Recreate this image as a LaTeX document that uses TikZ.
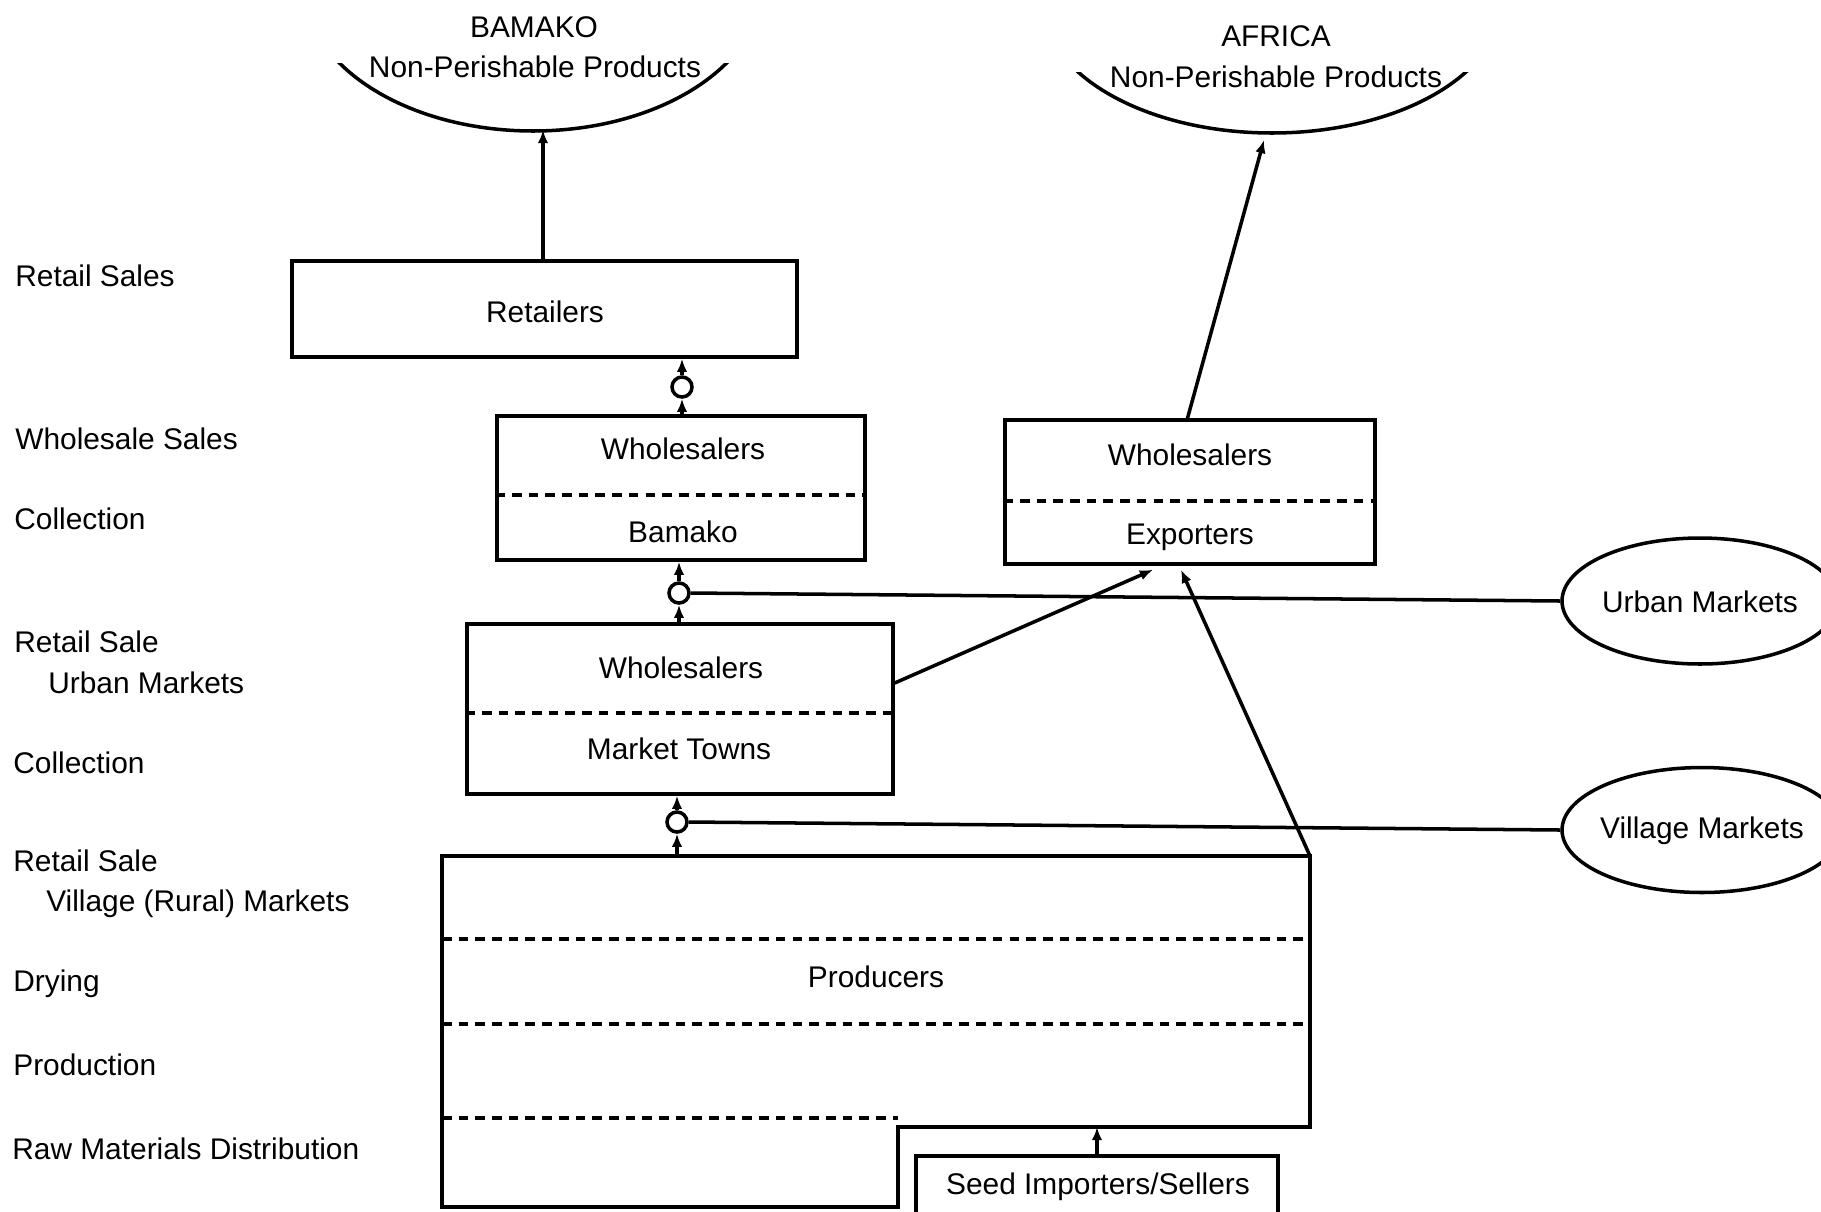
\documentclass[tikz,border=0pt]{standalone}
\usepackage{fontspec}
\setmainfont{Liberation Sans}
\usetikzlibrary{arrows.meta,calc,shapes.geometric}
\begin{document}
\begin{tikzpicture}[x=0.02cm,y=-0.02cm,
  every node/.style={font=\fontsize{17}{20}\selectfont},
  box/.style={draw,line width=2pt,inner sep=0,rectangle},
  dline/.style={line width=1.8pt,dash pattern=on 5.5pt off 4pt},
  conn/.style={line width=2pt},
  arr/.style={line width=2pt,-{Latex[length=7.5pt,width=6pt]}},
  lbl/.style={anchor=west,inner sep=0},
  txt/.style={inner sep=0},
  ring/.style={circle,draw,line width=2pt,minimum size=0.4cm,inner sep=0},
  mkt/.style={ellipse,draw,line width=2pt,inner sep=0}]
\useasboundingbox (0,0) rectangle (1821,1211);

% left labels
\node[lbl] (l1) at (15,276) {Retail Sales};
\node[lbl] (l2) at (15,439) {Wholesale Sales};
\node[lbl] (l3) at (14,519) {Collection};
\node[lbl] (l4) at (14,642) {Retail Sale};
\node[lbl] (l5) at (48,683) {Urban Markets};
\node[lbl] (l6) at (13,763) {Collection};
\node[lbl] (l7) at (13,861) {Retail Sale};
\node[lbl] (l8) at (46,904) {Village (Rural) Markets};
\node[lbl] (l9) at (13,984) {Drying};
\node[lbl] (l10) at (13,1065) {Production};
\node[lbl] (l11) at (12,1149) {Raw Materials Distribution};

% top destinations
\node[txt] (bam1) at (534,27) {BAMAKO};
\node[txt] (bam2) at (535,67) {Non-Perishable Products};
\node[txt] (afr1) at (1276,36) {AFRICA};
\node[txt] (afr2) at (1276,77) {Non-Perishable Products};
\begin{scope}
\clip (280,63) rectangle (790,200);
\draw[conn] (533,-17) ellipse [x radius=230, y radius=148];
\end{scope}
\begin{scope}
\clip (1020,72) rectangle (1530,200);
\draw[conn] (1272,1) ellipse [x radius=230, y radius=132];
\end{scope}
\coordinate (bamarc) at (543,130);
\coordinate (afrarc) at (1264,140);

% boxes
\node[box,minimum width=10.10cm,minimum height=1.92cm] (ret) at (544.5,309) {};
\node[txt] (rett) at (545,312) {Retailers};

\node[box,minimum width=7.36cm,minimum height=2.88cm] (wb) at (681,488) {};
\draw[dline] (wb.west |- 0,495) -- (wb.east |- 0,495);
\node[txt] (wbt1) at (683,449) {Wholesalers};
\node[txt] (wbt2) at (683,532) {Bamako};

\node[box,minimum width=7.40cm,minimum height=2.88cm] (we) at (1190,492) {};
\draw[dline] (we.west |- 0,501) -- (we.east |- 0,501);
\node[txt] (wet1) at (1190,455) {Wholesalers};
\node[txt] (wet2) at (1190,537) {Exporters};

\node[box,minimum width=8.52cm,minimum height=3.40cm] (wm) at (680,709) {};
\draw[dline] (wm.west |- 0,713) -- (wm.east |- 0,713);
\node[txt] (wmt1) at (681,668) {Wholesalers};
\node[txt] (wmt2) at (679,749) {Market Towns};

% producers
\coordinate (pNW) at (442,856);
\coordinate (pNE) at (1310,856);
\coordinate (pSE) at (1310,1127);
\coordinate (pN1) at (898,1127);
\coordinate (pN2) at (898,1207);
\coordinate (pSW) at (442,1207);
\draw[conn,line join=miter] (pNW) -- (pNE) -- (pSE) -- (pN1) -- (pN2) -- (pSW) -- cycle;
\draw[dline] (442,939) -- (1310,939);
\draw[dline] (442,1024) -- (1310,1024);
\draw[dline] (442,1118) -- (898,1118);
\node[txt] (prod) at (876,977) {Producers};

\node[box,minimum width=7.24cm,minimum height=1.32cm] (seed) at (1097,1189) {};
\node[txt] (seedt) at (1098,1187) {Seed Importers/Sellers};
\draw[arr] (seed.north) -- (seed.north |- pSE);

% circles
\node[ring] (c1) at (682,387) {};
\node[ring] (c2) at (679,593) {};
\node[ring] (c3) at (677,822) {};
\draw[arr] (c1 |- wb.north) -- (c1.south);
\draw[arr] (c1.north) -- (c1 |- ret.south);
\draw[arr] (c2 |- wm.north) -- (c2.south);
\draw[arr] (c2.north) -- (c2 |- wb.south);
\draw[arr] (c3 |- pNW) -- (c3.south);
\draw[arr] (c3.north) -- (c3 |- wm.south);

% markets
\node[mkt,minimum width=5.52cm,minimum height=2.52cm] (um) at (1700,601) {};
\node[txt] (umt) at (1700,602) {Urban Markets};
\node[mkt,minimum width=5.6cm,minimum height=2.5cm] (vm) at (1702,830) {};
\node[txt] (vmt) at (1702,831) {Village Markets};
\draw[conn] (c2.east) -- (um.west);
\draw[conn] (c3.east) -- (vm.west);

% upward flows
\draw[arr] (ret.north -| bamarc) -- (bamarc);
\draw[arr] (1187,420) -- (afrarc);
\draw[arr] ($(wm.north east)!0.35!(wm.south east)$) -- ($(we.south)+(-37,4)$);
\draw[arr] (pNE) -- ($(we.south)+(-9,4)$);
\end{tikzpicture}
\end{document}
